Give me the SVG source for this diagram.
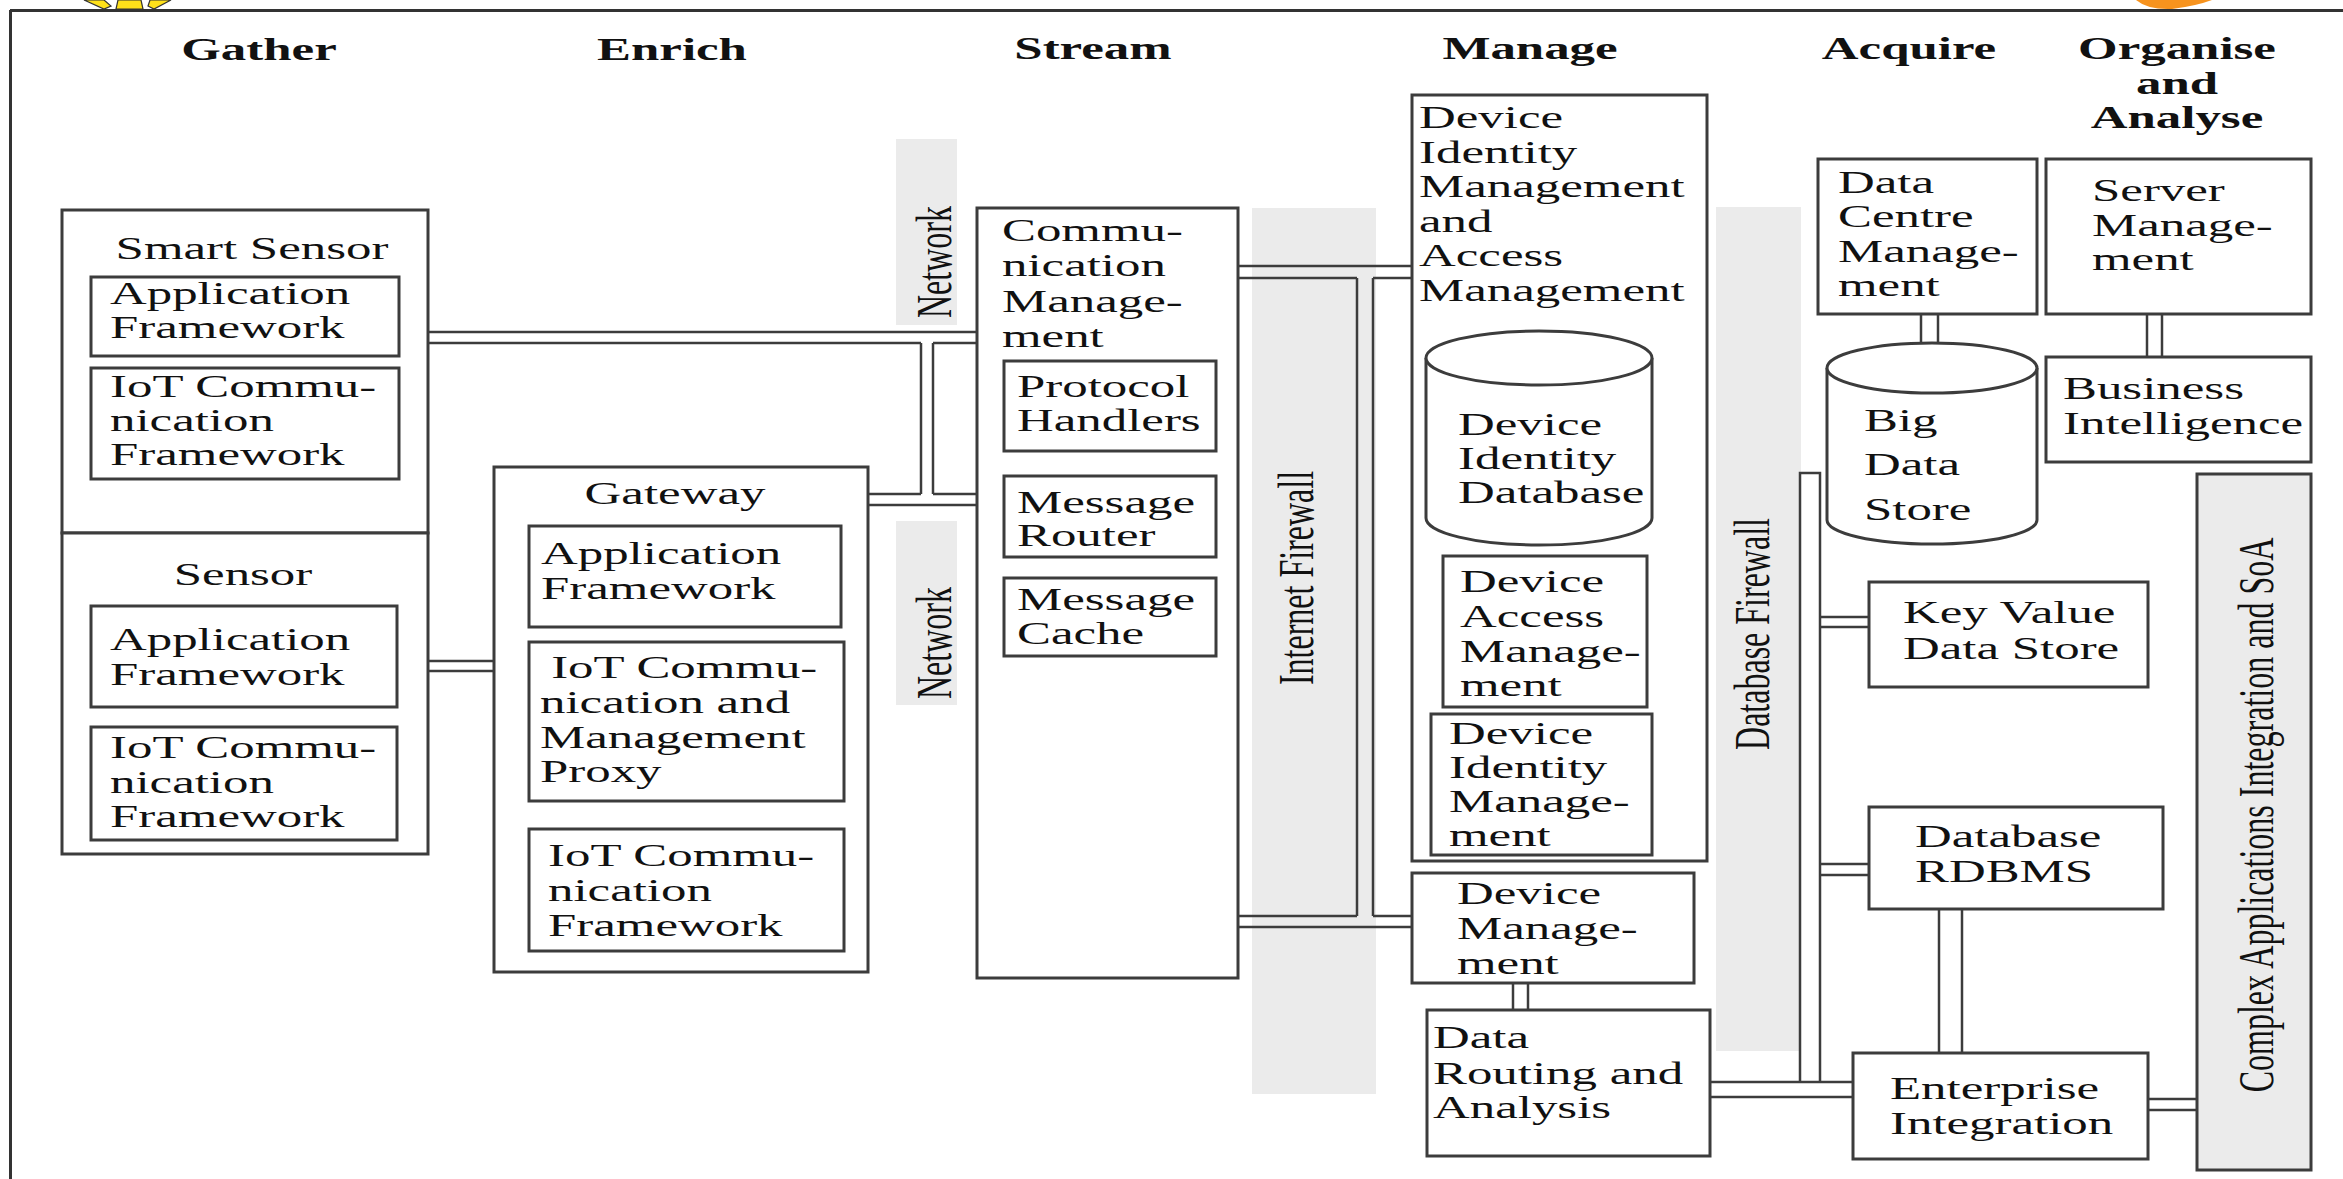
<svg xmlns="http://www.w3.org/2000/svg" width="2343" height="1179" viewBox="0 0 2343 1179">
<style>
.bg{fill:#fff}
.b{fill:#fff;stroke:#3c3c3c;stroke-width:3}
.g{fill:#ebebeb}
.gb{fill:#ebebeb;stroke:#3c3c3c;stroke-width:3}
.c line,.c path{stroke:#3c3c3c;stroke-width:2.5;fill:none}
.t{font-family:"Liberation Serif","Times New Roman",serif;font-size:32px;fill:#111}
.h{font-weight:bold}
</style>
<rect class="bg" x="0" y="0" width="2343" height="1179"/>
<!-- decorations -->
<g id="decor">
<polygon points="84,0 104,0 111,6 104,9" fill="#ffe11a" stroke="#333" stroke-width="1.2"/>
<polygon points="118,0 141,0 143,9 116,9" fill="#ffe11a" stroke="#333" stroke-width="1.2"/>
<polygon points="150,0 171,0 154,9 148,6" fill="#ffe11a" stroke="#333" stroke-width="1.2"/>
<path d="M2136,0 Q2148,10 2172,9 Q2196,6 2212,0 Z" fill="#f7931e"/>
</g>
<g id="frame">
<line x1="10" y1="10.5" x2="2343" y2="10.5" stroke="#333" stroke-width="3"/>
<line x1="10.5" y1="10" x2="10.5" y2="1179" stroke="#333" stroke-width="3"/>
</g>
<!-- headers -->
<g id="headers">
<text class="t h" text-anchor="middle" transform="translate(259 60) scale(1.59 1)">Gather</text>
<text class="t h" text-anchor="middle" transform="translate(672 60) scale(1.59 1)">Enrich</text>
<text class="t h" text-anchor="middle" transform="translate(1093 59) scale(1.59 1)">Stream</text>
<text class="t h" text-anchor="middle" transform="translate(1530 59) scale(1.59 1)">Manage</text>
<text class="t h" text-anchor="middle" transform="translate(1909 59) scale(1.59 1)">Acquire</text>
<text class="t h" text-anchor="middle" transform="translate(2177 59) scale(1.59 1)"><tspan x="0" y="0">Organise</tspan><tspan x="0" y="35">and</tspan><tspan x="0" y="69">Analyse</tspan></text>
</g>
<!-- gray bands -->
<g id="network-upper">
<rect class="g" x="896" y="139" width="61" height="186"/>
<text class="t" text-anchor="middle" transform="translate(951 262) rotate(-90) scale(1 1.59)">Network</text>
</g>
<g id="network-lower">
<rect class="g" x="896" y="521" width="61" height="184"/>
<text class="t" text-anchor="middle" transform="translate(951 643) rotate(-90) scale(1 1.59)">Network</text>
</g>
<g id="internet-firewall">
<rect class="g" x="1252" y="208" width="124" height="886"/>
<text class="t" text-anchor="middle" transform="translate(1313 578) rotate(-90) scale(1 1.59)">Internet Firewall</text>
</g>
<g id="database-firewall">
<rect class="g" x="1716" y="207" width="85" height="844"/>
<text class="t" text-anchor="middle" transform="translate(1769 634) rotate(-90) scale(1 1.59)">Database Firewall</text>
</g>
<!-- connectors -->
<g id="connectors" class="c">
<line x1="428" y1="332" x2="977" y2="332"/>
<line x1="428" y1="343" x2="921" y2="343"/>
<line x1="933" y1="343" x2="977" y2="343"/>
<line x1="921" y1="343" x2="921" y2="494"/>
<line x1="933" y1="343" x2="933" y2="494"/>
<line x1="868" y1="494" x2="921" y2="494"/>
<line x1="933" y1="494" x2="977" y2="494"/>
<line x1="868" y1="505" x2="977" y2="505"/>
<line x1="428" y1="661" x2="494" y2="661"/>
<line x1="428" y1="671" x2="494" y2="671"/>
<line x1="1238" y1="266" x2="1412" y2="266"/>
<line x1="1238" y1="278" x2="1357" y2="278"/>
<line x1="1373" y1="278" x2="1412" y2="278"/>
<line x1="1357" y1="278" x2="1357" y2="916"/>
<line x1="1373" y1="278" x2="1373" y2="916"/>
<line x1="1238" y1="916" x2="1357" y2="916"/>
<line x1="1373" y1="916" x2="1412" y2="916"/>
<line x1="1238" y1="927" x2="1412" y2="927"/>
<line x1="1513" y1="983" x2="1513" y2="1010"/>
<line x1="1528" y1="983" x2="1528" y2="1010"/>
<line x1="1921" y1="314" x2="1921" y2="343"/>
<line x1="1938" y1="314" x2="1938" y2="343"/>
<line x1="2147" y1="314" x2="2147" y2="357"/>
<line x1="2162" y1="314" x2="2162" y2="357"/>
<path d="M1800,1082 L1800,473 L1820,473 L1820,1082"/>
<line x1="1820" y1="617" x2="1869" y2="617"/>
<line x1="1820" y1="627" x2="1869" y2="627"/>
<line x1="1820" y1="864" x2="1869" y2="864"/>
<line x1="1820" y1="875" x2="1869" y2="875"/>
<line x1="1939" y1="909" x2="1939" y2="1053"/>
<line x1="1962" y1="909" x2="1962" y2="1053"/>
<line x1="1710" y1="1082" x2="1853" y2="1082"/>
<line x1="1710" y1="1097" x2="1853" y2="1097"/>
<line x1="2148" y1="1099" x2="2197" y2="1099"/>
<line x1="2148" y1="1110" x2="2197" y2="1110"/>
</g>
<!-- Gather -->
<g id="smart-sensor">
<rect class="b" x="62" y="210" width="366" height="323"/>
<text class="t" text-anchor="middle" transform="translate(252 259) scale(1.59 1)">Smart Sensor</text>
</g>
<g id="smart-app-framework">
<rect class="b" x="91" y="277" width="308" height="79"/>
<text class="t" transform="translate(110 304) scale(1.59 1)"><tspan x="0" y="0">Application</tspan><tspan x="0" y="34">Framework</tspan></text>
</g>
<g id="smart-iot-framework">
<rect class="b" x="91" y="368" width="308" height="111"/>
<text class="t" transform="translate(110 397) scale(1.59 1)"><tspan x="0" y="0">IoT Commu-</tspan><tspan x="0" y="34">nication</tspan><tspan x="0" y="68">Framework</tspan></text>
</g>
<g id="sensor">
<rect class="b" x="62" y="533" width="366" height="321"/>
<text class="t" text-anchor="middle" transform="translate(243 585) scale(1.59 1)">Sensor</text>
</g>
<g id="sensor-app-framework">
<rect class="b" x="91" y="606" width="306" height="101"/>
<text class="t" transform="translate(110 650) scale(1.59 1)"><tspan x="0" y="0">Application</tspan><tspan x="0" y="35">Framework</tspan></text>
</g>
<g id="sensor-iot-framework">
<rect class="b" x="91" y="727" width="306" height="113"/>
<text class="t" transform="translate(110 758) scale(1.59 1)"><tspan x="0" y="0">IoT Commu-</tspan><tspan x="0" y="35">nication</tspan><tspan x="0" y="69">Framework</tspan></text>
</g>
<!-- Enrich -->
<g id="gateway">
<rect class="b" x="494" y="467" width="374" height="505"/>
<text class="t" text-anchor="middle" transform="translate(675 504) scale(1.59 1)">Gateway</text>
</g>
<g id="gateway-app-framework">
<rect class="b" x="529" y="526" width="312" height="101"/>
<text class="t" transform="translate(541 564) scale(1.59 1)"><tspan x="0" y="0">Application</tspan><tspan x="0" y="35">Framework</tspan></text>
</g>
<g id="gateway-proxy">
<rect class="b" x="529" y="642" width="315" height="159"/>
<text class="t" transform="translate(540 678) scale(1.59 1)"><tspan x="7" y="0">IoT Commu-</tspan><tspan x="0" y="35">nication  and</tspan><tspan x="0" y="70">Management</tspan><tspan x="0" y="104">Proxy</tspan></text>
</g>
<g id="gateway-iot-framework">
<rect class="b" x="529" y="829" width="315" height="122"/>
<text class="t" transform="translate(548 866) scale(1.59 1)"><tspan x="0" y="0">IoT Commu-</tspan><tspan x="0" y="35">nication</tspan><tspan x="0" y="70">Framework</tspan></text>
</g>
<!-- Stream -->
<g id="communication-management">
<rect class="b" x="977" y="208" width="261" height="770"/>
<text class="t" transform="translate(1002 241) scale(1.59 1)"><tspan x="0" y="0">Commu-</tspan><tspan x="0" y="35">nication</tspan><tspan x="0" y="71">Manage-</tspan><tspan x="0" y="106">ment</tspan></text>
</g>
<g id="protocol-handlers">
<rect class="b" x="1004" y="361" width="212" height="90"/>
<text class="t" transform="translate(1017 397) scale(1.59 1)"><tspan x="0" y="0">Protocol</tspan><tspan x="0" y="34">Handlers</tspan></text>
</g>
<g id="message-router">
<rect class="b" x="1004" y="476" width="212" height="81"/>
<text class="t" transform="translate(1017 513) scale(1.59 1)"><tspan x="0" y="0">Message</tspan><tspan x="0" y="33">Router</tspan></text>
</g>
<g id="message-cache">
<rect class="b" x="1004" y="578" width="212" height="78"/>
<text class="t" transform="translate(1017 610) scale(1.59 1)"><tspan x="0" y="0">Message</tspan><tspan x="0" y="34">Cache</tspan></text>
</g>
<!-- Manage -->
<g id="device-identity-access-management">
<rect class="b" x="1412" y="95" width="295" height="766"/>
<text class="t" transform="translate(1419 128) scale(1.59 1)"><tspan x="0" y="0">Device</tspan><tspan x="0" y="35">Identity</tspan><tspan x="0" y="69">Management</tspan><tspan x="0" y="104">and</tspan><tspan x="0" y="138">Access</tspan><tspan x="0" y="173">Management</tspan></text>
</g>
<g id="device-identity-database">
<path class="b" d="M1426,358 L1426,518 A113,27 0 0 0 1652,518 L1652,358"/>
<ellipse class="b" cx="1539" cy="358" rx="113" ry="27"/>
<text class="t" transform="translate(1458 435) scale(1.59 1)"><tspan x="0" y="0">Device</tspan><tspan x="0" y="34">Identity</tspan><tspan x="0" y="68">Database</tspan></text>
</g>
<g id="device-access-management">
<rect class="b" x="1443" y="556" width="204" height="151"/>
<text class="t" transform="translate(1460 592) scale(1.59 1)"><tspan x="0" y="0">Device</tspan><tspan x="0" y="35">Access</tspan><tspan x="0" y="70">Manage-</tspan><tspan x="0" y="104">ment</tspan></text>
</g>
<g id="device-identity-management">
<rect class="b" x="1431" y="714" width="221" height="141"/>
<text class="t" transform="translate(1449 744) scale(1.59 1)"><tspan x="0" y="0">Device</tspan><tspan x="0" y="34">Identity</tspan><tspan x="0" y="68">Manage-</tspan><tspan x="0" y="102">ment</tspan></text>
</g>
<g id="device-management">
<rect class="b" x="1412" y="873" width="282" height="110"/>
<text class="t" transform="translate(1457 904) scale(1.59 1)"><tspan x="0" y="0">Device</tspan><tspan x="0" y="35">Manage-</tspan><tspan x="0" y="70">ment</tspan></text>
</g>
<g id="data-routing-analysis">
<rect class="b" x="1427" y="1010" width="283" height="146"/>
<text class="t" transform="translate(1433 1048) scale(1.59 1)"><tspan x="0" y="0">Data</tspan><tspan x="0" y="36">Routing and</tspan><tspan x="0" y="70">Analysis</tspan></text>
</g>
<!-- Acquire -->
<g id="data-centre-management">
<rect class="b" x="1818" y="159" width="219" height="155"/>
<text class="t" transform="translate(1838 193) scale(1.59 1)"><tspan x="0" y="0">Data</tspan><tspan x="0" y="34">Centre</tspan><tspan x="0" y="69">Manage-</tspan><tspan x="0" y="103">ment</tspan></text>
</g>
<g id="big-data-store">
<path class="b" d="M1827,368 L1827,520 A105,24 0 0 0 2037,520 L2037,368"/>
<ellipse class="b" cx="1932" cy="368" rx="105" ry="25"/>
<text class="t" transform="translate(1864 431) scale(1.59 1)"><tspan x="0" y="0">Big</tspan><tspan x="0" y="44">Data</tspan><tspan x="0" y="89">Store</tspan></text>
</g>
<g id="key-value-data-store">
<rect class="b" x="1869" y="582" width="279" height="105"/>
<text class="t" transform="translate(1903 623) scale(1.59 1)"><tspan x="0" y="0">Key Value</tspan><tspan x="0" y="36">Data Store</tspan></text>
</g>
<g id="database-rdbms">
<rect class="b" x="1869" y="807" width="294" height="102"/>
<text class="t" transform="translate(1915 847) scale(1.59 1)"><tspan x="0" y="0">Database</tspan><tspan x="0" y="35">RDBMS</tspan></text>
</g>
<g id="enterprise-integration">
<rect class="b" x="1853" y="1053" width="295" height="106"/>
<text class="t" transform="translate(1890 1099) scale(1.59 1)"><tspan x="0" y="0">Enterprise</tspan><tspan x="0" y="35">Integration</tspan></text>
</g>
<!-- Organise and Analyse -->
<g id="server-management">
<rect class="b" x="2046" y="159" width="265" height="155"/>
<text class="t" transform="translate(2092 201) scale(1.59 1)"><tspan x="0" y="0">Server</tspan><tspan x="0" y="35">Manage-</tspan><tspan x="0" y="69">ment</tspan></text>
</g>
<g id="business-intelligence">
<rect class="b" x="2046" y="357" width="265" height="105"/>
<text class="t" transform="translate(2063 399) scale(1.59 1)"><tspan x="0" y="0">Business</tspan><tspan x="0" y="35">Intelligence</tspan></text>
</g>
<g id="complex-applications">
<rect class="gb" x="2197" y="474" width="114" height="696"/>
<text class="t" text-anchor="middle" transform="translate(2273 815) rotate(-90) scale(1 1.59)">Complex Applications Integration and SoA</text>
</g>
</svg>
